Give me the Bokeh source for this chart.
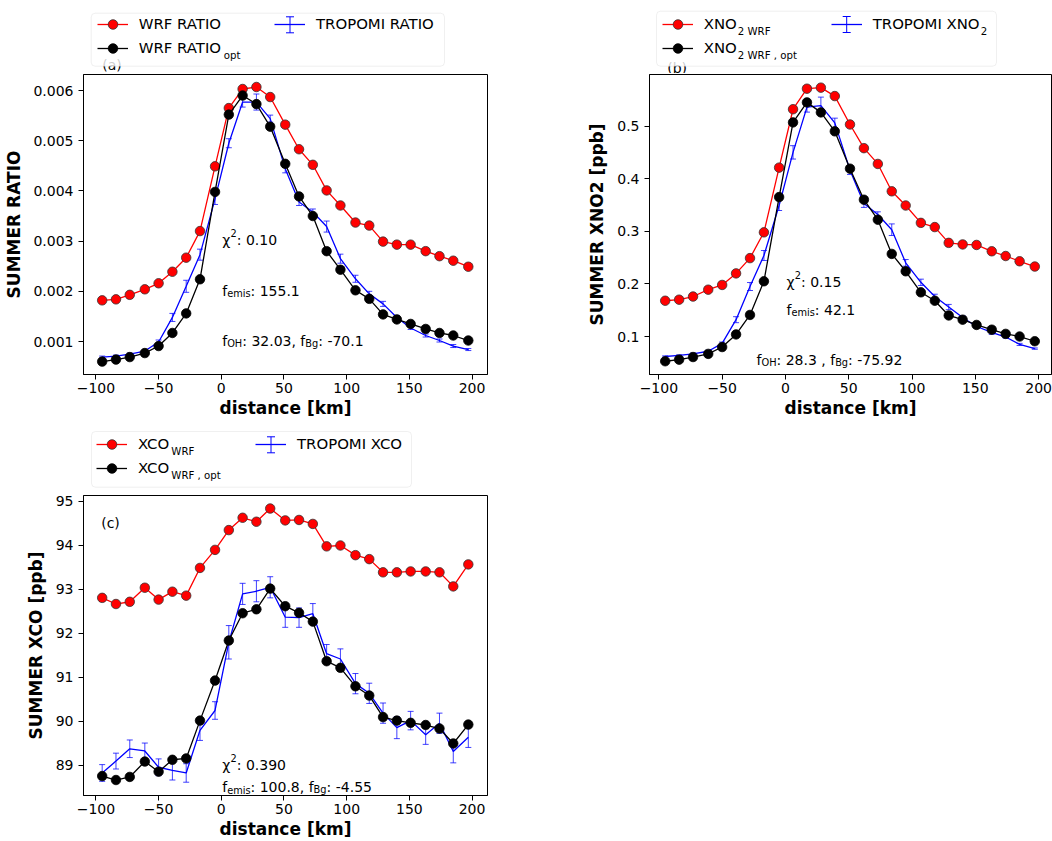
import numpy as np
from bokeh.plotting import figure
from bokeh.models import (ColumnDataSource, Range1d, FixedTicker, Legend, LegendItem,
                          Label, BoxAnnotation, Whisker, TeeHead, Arrow, PrintfTickFormatter)
from bokeh.layouts import column, row
from bokeh.embed import file_html
from bokeh.resources import INLINE

FONT = "DejaVu Sans"

# ---------------- data ----------------
distance_km = [-95, -84, -73, -61, -50, -39, -28, -17, -5, 6, 17, 28, 39, 51, 62,
               73, 84, 95, 107, 118, 129, 140, 151, 163, 174, 185, 197]
x_ticks = [-100, -50, 0, 50, 100, 150, 200]

ratio_wrf = [0.00182, 0.00184, 0.00193, 0.00204, 0.00216, 0.00239, 0.00267, 0.00320, 0.00449,
             0.00565, 0.00603, 0.00607, 0.00587, 0.00532, 0.00483, 0.00452, 0.00401, 0.00371,
             0.00337, 0.00331, 0.00299, 0.00293, 0.00293, 0.00280, 0.00270, 0.00261, 0.00249]
ratio_opt = [0.00060, 0.00064, 0.00069, 0.00077, 0.00091, 0.00117, 0.00156, 0.00224, 0.00398,
             0.00552, 0.00590, 0.00573, 0.00528, 0.00454, 0.00389, 0.00350, 0.00280, 0.00243,
             0.00202, 0.00185, 0.00154, 0.00144, 0.00135, 0.00125, 0.00117, 0.00112, 0.00102]
ratio_obs = [0.00069, 0.00071, 0.00075, 0.00081, 0.00099, 0.00148, 0.00210, 0.00273, 0.00384,
             0.00495, 0.00577, 0.00577, 0.00544, 0.00444, 0.00378, 0.00358, 0.00329, 0.00265,
             0.00225, 0.00195, 0.00175, 0.00148, 0.00127, 0.00112, 0.00102, 0.00091, 0.00084]
ratio_err = [0.00002, 0.00002, 0.00002, 0.00003, 0.00004, 0.00008, 0.00012, 0.00011, 0.00011,
             0.00009, 0.00010, 0.00016, 0.00007, 0.00008, 0.00007, 0.00006, 0.00011, 0.00009,
             0.00007, 0.00005, 0.00005, 0.00004, 0.00003, 0.00003, 0.00003, 0.00003, 0.00002]
ratio_ticks = [0.001, 0.002, 0.003, 0.004, 0.005, 0.006]

xno2_wrf = [0.168, 0.170, 0.176, 0.189, 0.198, 0.220, 0.249, 0.298, 0.421, 0.532, 0.571, 0.573,
            0.557, 0.503, 0.458, 0.428, 0.376, 0.349, 0.316, 0.308, 0.278, 0.275, 0.274, 0.262,
            0.253, 0.243, 0.233]
xno2_opt = [0.053, 0.056, 0.061, 0.067, 0.080, 0.104, 0.141, 0.205, 0.365, 0.507, 0.545, 0.526,
            0.490, 0.419, 0.360, 0.322, 0.257, 0.224, 0.184, 0.168, 0.140, 0.132, 0.122, 0.113,
            0.105, 0.100, 0.091]
xno2_obs = [0.062, 0.064, 0.067, 0.072, 0.087, 0.132, 0.195, 0.254, 0.349, 0.450, 0.536, 0.539,
            0.506, 0.416, 0.353, 0.332, 0.303, 0.240, 0.203, 0.176, 0.156, 0.136, 0.119, 0.108,
            0.099, 0.085, 0.077]
xno2_err = [0.0012, 0.0012, 0.0015, 0.0018, 0.0025, 0.0057, 0.0076, 0.0095, 0.0095, 0.0127,
            0.0095, 0.0160, 0.0090, 0.0080, 0.0076, 0.0050, 0.0110, 0.0063, 0.0060, 0.0044,
            0.0050, 0.0030, 0.0025, 0.0038, 0.0020, 0.0020, 0.0013]
xno2_ticks = [0.1, 0.2, 0.3, 0.4, 0.5]

xco_wrf = [92.81, 92.67, 92.72, 93.04, 92.77, 92.95, 92.86, 93.49, 93.90, 94.35, 94.63, 94.54,
           94.84, 94.57, 94.58, 94.49, 93.98, 94.00, 93.78, 93.69, 93.39, 93.39, 93.41, 93.41,
           93.39, 93.07, 93.57]
xco_opt = [88.76, 88.67, 88.74, 89.09, 88.86, 89.13, 89.16, 90.02, 90.93, 91.84, 92.46, 92.55,
           93.02, 92.62, 92.47, 92.27, 91.37, 91.22, 90.80, 90.59, 90.10, 90.02, 89.97, 89.92,
           89.84, 89.50, 89.93]
xco_obs = [88.83, 89.10, 89.38, 89.33, 88.96, 88.89, 88.83, 89.80, 90.25, 91.80, 92.90, 92.96,
           93.05, 92.37, 92.36, 92.45, 91.54, 91.42, 90.86, 90.64, 90.19, 89.86, 90.02, 89.70,
           89.96, 89.32, 89.64]
xco_err = [0.19, 0.18, 0.20, 0.18, 0.19, 0.22, 0.21, 0.23, 0.20, 0.38, 0.24, 0.24, 0.24, 0.23,
           0.22, 0.23, 0.21, 0.23, 0.23, 0.23, 0.23, 0.25, 0.21, 0.22, 0.23, 0.26, 0.23]
xco_ticks = [89, 90, 91, 92, 93, 94, 95]

# ---------------- text metrics (DejaVu Sans advances /2048) ----------------
ADV = {" ": 651, "(": 799, ")": 799, ",": 651, "-": 739, ".": 651, ":": 690, "χ": 1212,
       "A": 1401, "B": 1405, "C": 1430, "E": 1294, "F": 1178, "H": 1540, "I": 604, "M": 1767,
       "N": 1532, "O": 1612, "P": 1235, "R": 1423, "S": 1300, "T": 1251, "U": 1499, "W": 2025,
       "X": 1403, "a": 1255, "b": 1300, "c": 1126, "e": 1260, "f": 721, "g": 1300, "i": 569,
       "m": 1995, "o": 1253, "p": 1300, "s": 1067, "t": 803}
for d in "0123456789":
    ADV[d] = 1303


def text_w(s, size):
    return sum(ADV.get(ch, 1300) for ch in s) / 2048.0 * size


LEG_FS = 14.9
SUB_FS = 10.2
ANN_FS = 14
ANN_SUB = 9.8
LEG_H = 73


def make_fig(width, height, left, right, top, bottom, xr, yr, yticks, yfmt, ylabel, ylab_standoff):
    p = figure(width=width, height=height, x_range=Range1d(*xr), y_range=Range1d(*yr),
               output_backend="svg", toolbar_location=None,
               min_border_left=left, min_border_right=right,
               min_border_top=top, min_border_bottom=bottom)
    p.grid.visible = False
    p.outline_line_color = "black"
    p.outline_line_width = 1
    p.outline_line_alpha = 1
    p.background_fill_color = "white"
    p.border_fill_color = "white"
    p.xaxis.ticker = FixedTicker(ticks=x_ticks)
    p.xaxis.major_label_overrides = {-100: "\u2212100", -50: "\u221250"}
    p.yaxis.ticker = FixedTicker(ticks=yticks)
    if yfmt:
        p.yaxis.formatter = PrintfTickFormatter(format=yfmt)
    for ax in (p.xaxis[0], p.yaxis[0]):
        ax.major_tick_out = 5
        ax.major_tick_in = 0
        ax.minor_tick_out = 0
        ax.minor_tick_in = 0
        ax.major_tick_line_color = "black"
        ax.axis_line_color = "black"
        ax.major_label_text_font = FONT
        ax.major_label_text_font_size = "14px"
        ax.major_label_text_color = "black"
        ax.axis_label_text_font = FONT
        ax.axis_label_text_font_size = "17px"
        ax.axis_label_text_font_style = "bold"
        ax.axis_label_text_color = "black"
    p.xaxis.axis_label = "distance [km]"
    p.yaxis.axis_label = ylabel
    p.xaxis.major_label_standoff = 3
    p.xaxis.axis_label_standoff = 2
    p.yaxis.major_label_standoff = 5
    p.yaxis.axis_label_standoff = ylab_standoff
    return p


def legend_fig(W, H):
    f = figure(width=W, height=H, x_range=Range1d(0, W), y_range=Range1d(H, 0),
               x_axis_type=None, y_axis_type=None, output_backend="svg",
               toolbar_location=None, min_border_left=0, min_border_right=0,
               min_border_top=0, min_border_bottom=0)
    f.outline_line_color = None
    f.background_fill_color = "white"
    f.border_fill_color = "white"
    return f


def draw_series(p, wrf, opt, obs, err):
    src = ColumnDataSource(dict(x=distance_km, wrf=wrf, opt=opt, obs=obs,
                                lower=[o - e for o, e in zip(obs, err)],
                                upper=[o + e for o, e in zip(obs, err)]))
    wh = Whisker(source=src, base="x", lower="lower", upper="upper", level="underlay",
                 line_color="blue", line_alpha=0.75, line_width=1,
                 upper_head=TeeHead(size=6, line_color="blue", line_alpha=0.75, line_width=1),
                 lower_head=TeeHead(size=6, line_color="blue", line_alpha=0.75, line_width=1))
    p.add_layout(wh)
    p.line("x", "obs", source=src, line_color="blue", line_width=1.3)
    p.line("x", "wrf", source=src, line_color="red", line_width=1.3)
    p.scatter("x", "wrf", source=src, size=9.5, fill_color="red",
              line_color="#333333", line_width=0.8)
    p.line("x", "opt", source=src, line_color="black", line_width=1.3)
    p.scatter("x", "opt", source=src, size=9.5, fill_color="black",
              line_color="black", line_width=0.8)


def rich(p, FL, FB, x, baseline, runs, color="black"):
    """text runs placed in screen units relative to the plot frame"""
    cx = x
    for txt, size, dy in runs:
        p.add_layout(Label(x=cx - FL, y=FB - (baseline - dy), x_units="screen",
                           y_units="screen", text=txt, text_font=FONT,
                           text_font_size=f"{size}px", text_color=color,
                           text_baseline="alphabetic", text_align="left"))
        cx += text_w(txt, size)


def rich_data(f, x, baseline, runs, color="black"):
    """text runs placed in the legend strip (data units == pixels, y down)"""
    cx = x
    for txt, size, dy in runs:
        f.add_layout(Label(x=cx, y=baseline - dy, text=txt, text_font=FONT,
                           text_font_size=f"{size}px", text_color=color,
                           text_baseline="alphabetic", text_align="left"))
        cx += text_w(txt, size)


def legend_block(f, box, col1, col2, row1, labels, subs):
    H = f.height
    nan = np.array([np.nan])
    wl = f.line(nan, nan, line_color="red", line_width=1.3)
    wm = f.scatter(nan, nan, size=9.5, fill_color="red", line_color="#333333", line_width=0.8)
    ol = f.line(nan, nan, line_color="black", line_width=1.3)
    om = f.scatter(nan, nan, size=9.5, fill_color="black", line_color="black", line_width=0.8)
    bl = f.line(nan, nan, line_color="blue", line_width=1.3)
    l_, t_, r_, b_ = box
    kw = dict(left=l_, right=r_, top=t_, bottom=b_, fill_color="white", fill_alpha=0.8,
              line_color="#cccccc", line_width=1)
    try:
        bx = BoxAnnotation(border_radius=4, **kw)
    except Exception:
        bx = BoxAnnotation(**kw)
    f.add_layout(bx)
    common = dict(orientation="vertical", glyph_width=31, glyph_height=24, label_height=24,
                  label_standoff=11, spacing=0, padding=0, margin=0,
                  border_line_color=None, background_fill_alpha=0,
                  label_text_font=FONT, label_text_font_size=f"{LEG_FS}px",
                  label_text_color="black")
    top = row1 - 12
    l1 = Legend(items=[LegendItem(label=labels[0], renderers=[wl, wm]),
                       LegendItem(label=labels[1], renderers=[ol, om])],
                location=(col1, H - (top + 48)), **common)
    l2 = Legend(items=[LegendItem(label=labels[2], renderers=[bl])],
                location=(col2, H - (top + 24)), **common)
    f.add_layout(l1)
    f.add_layout(l2)
    cx = col2 + 15.5
    f.add_layout(Arrow(x_start=cx, y_start=row1 + 8, x_end=cx, y_end=row1 - 8,
                       line_color="blue", line_width=1,
                       start=TeeHead(size=8, line_color="blue", line_width=1),
                       end=TeeHead(size=8, line_color="blue", line_width=1)))
    rows = [(col1, row1), (col1, row1 + 24), (col2, row1)]
    for (cl, rc), lab, sub in zip(rows, labels, subs):
        if sub:
            tx = cl + 31 + 11 + text_w(lab, LEG_FS) + 0.5
            rich_data(f, tx, rc + 5.2 + 1.5, [(sub, SUB_FS, 0)])


# ---------------- legend strip above (a) and (b) ----------------
legA = legend_fig(507, LEG_H)
rich_data(legA, 101.7, 64, [("(a)", ANN_FS, 0)])
legend_block(legA, (90.7, 12.7, 444, 65.7), 96.7, 274, 24.3,
             ["WRF RATIO", "WRF RATIO", "TROPOMI RATIO"], ["", "opt", ""])

legB = legend_fig(545, LEG_H)
OXB = 507
rich_data(legB, 666.7 - OXB, 67, [("(b)", ANN_FS, 0)])
legend_block(legB, (656 - OXB, 10.7, 996 - OXB, 65.7), 661.7 - OXB, 830.7 - OXB, 24,
             ["XNO", "XNO", "TROPOMI XNO"], ["2 WRF", "2 WRF , opt", "2"])

# ---------------- panel (a) ----------------
pa = make_fig(507, 348, 83, 20, 1, 47, (-109.9, 212.3), (0.000343, 0.006319),
              ratio_ticks, "%.3f", "SUMMER RATIO", 6)
FLa, FBa = 83, 374
draw_series(pa, ratio_wrf, ratio_opt, ratio_obs, ratio_err)
rich(pa, FLa, FBa, 221.7, 239.3, [("χ", ANN_FS, 0), ("2", ANN_SUB, 7), (": 0.10", ANN_FS, 0)])
rich(pa, FLa, FBa, 221.7, 290, [("f", ANN_FS, 0), ("emis", ANN_SUB, -3), (": 155.1", ANN_FS, 0)])
rich(pa, FLa, FBa, 221.7, 340, [("f", ANN_FS, 0), ("OH", ANN_SUB, -2.5),
                                (": 32.03, f", ANN_FS, 0), ("Bg", ANN_SUB, -2.5),
                                (": -70.1", ANN_FS, 0)])

# ---------------- panel (b) ----------------
pb = make_fig(545, 348, 142, 1, 1, 47, (-107.4, 210.2), (0.0278, 0.598),
              xno2_ticks, "%.1f", "SUMMER XNO2 [ppb]", 7)
FLb, FBb = 649, 374
draw_series(pb, xno2_wrf, xno2_opt, xno2_obs, xno2_err)
rich(pb, FLb, FBb, 786, 281.7, [("χ", ANN_FS, 0), ("2", ANN_SUB, 7), (": 0.15", ANN_FS, 0)])
rich(pb, FLb, FBb, 786, 309.3, [("f", ANN_FS, 0), ("emis", ANN_SUB, -3), (": 42.1", ANN_FS, 0)])
rich(pb, FLb, FBb, 756, 359, [("f", ANN_FS, 0), ("OH", ANN_SUB, -2.5),
                              (": 28.3 , f", ANN_FS, 0), ("Bg", ANN_SUB, -2.5),
                              (": -75.92", ANN_FS, 0)])

# ---------------- legend strip above (c) ----------------
legC = legend_fig(507, LEG_H)
OYC = 421
legend_block(legC, (91, 431 - OYC, 411, 486.7 - OYC), 96, 255, 444.3 - OYC,
             ["XCO", "XCO", "TROPOMI XCO"], ["WRF", "WRF , opt", ""])

# ---------------- panel (c) ----------------
pc = make_fig(507, 347, 83, 20, 1, 46, (-109.9, 212.3), (88.318, 95.136),
              xco_ticks, None, "SUMMER XCO [ppb]", 7)
FLc, FBc = 83, 795
draw_series(pc, xco_wrf, xco_opt, xco_obs, xco_err)
rich(pc, FLc, FBc, 100.7, 522, [("(c)", ANN_FS, 0)])
rich(pc, FLc, FBc, 221.7, 764, [("χ", ANN_FS, 0), ("2", ANN_SUB, 7), (": 0.390", ANN_FS, 0)])
rich(pc, FLc, FBc, 221.7, 786.7, [("f", ANN_FS, 0), ("emis", ANN_SUB, -3),
                                  (": 100.8, f", ANN_FS, 0), ("Bg", ANN_SUB, -2.5),
                                  (": -4.55", ANN_FS, 0)])

layout = column(row(legA, legB), row(pa, pb), row(legC), row(pc))
open("out.html", "w").write(file_html(layout, INLINE))
